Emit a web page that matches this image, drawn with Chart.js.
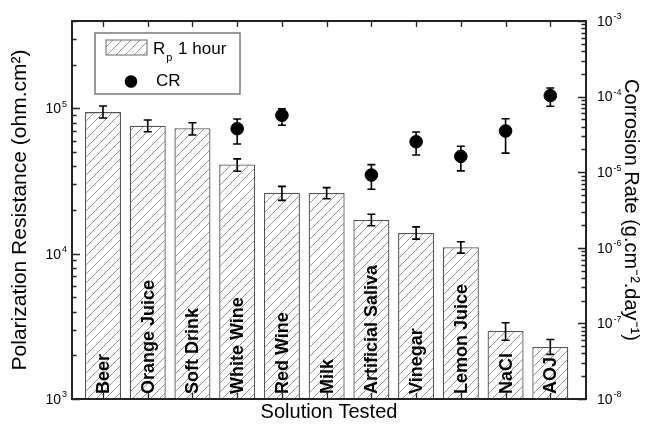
<!DOCTYPE html>
<html><head><meta charset="utf-8">
<script src="https://cdn.jsdelivr.net/npm/chart.js@4.4.1/dist/chart.umd.min.js"></script>
<style>html,body{margin:0;padding:0;background:#fff;} canvas{display:block;}</style>
</head><body>
<canvas id="c" width="652" height="427"></canvas>
<script>
// ---- data ----
const categories = ['Beer','Orange Juice','Soft Drink','White Wine','Red Wine','Milk','Artificial Saliva','Vinegar','Lemon Juice','NaCl','AOJ'];
const rpValues  = [94400, 76100, 73000, 41100, 26300, 26200, 17100, 13900, 11100, 2940, 2280];
const rpErrHigh = [104000, 83200, 79800, 45000, 29100, 28500, 18700, 15300, 12100, 3350, 2570];
const rpErrLow  = [86000, 69200, 65600, 37000, 23300, 23900, 15600, 12600, 10100, 2540, 2030];
const crValues  = [null, null, null, 3.76e-5, 5.66e-5, null, 9.18e-6, 2.53e-5, 1.62e-5, 3.51e-5, 1.03e-4];
const crErrHigh = [null, null, null, 5.06e-5, 6.92e-5, null, 1.26e-5, 3.40e-5, 2.20e-5, 5.10e-5, 1.30e-4];
const crErrLow  = [null, null, null, 2.36e-5, 4.17e-5, null, 5.94e-6, 1.69e-5, 1.04e-5, 1.79e-5, 7.45e-5];
const leftTickExps  = [3, 4, 5];
const rightTickExps = [-8, -7, -6, -5, -4, -3];
const seriesNames = ['1 hour', 'CR'];

const FONT = '"Liberation Sans", Arial, sans-serif';
const canvas = document.getElementById('c');
const mainCtx = canvas.getContext('2d');

function makeHatch(){
  const s = 9;
  const c = document.createElement('canvas'); c.width = s; c.height = s;
  const g = c.getContext('2d');
  g.fillStyle = '#fff'; g.fillRect(0,0,s,s);
  g.strokeStyle = '#8c8c8c'; g.lineWidth = 0.9;
  g.beginPath();
  g.moveTo(0,s); g.lineTo(s,0);
  g.moveTo(-2,2); g.lineTo(2,-2);
  g.moveTo(s-2,s+2); g.lineTo(s+2,s-2);
  g.stroke();
  return mainCtx.createPattern(c,'repeat');
}
const hatch = makeHatch();

function drawErr(ctx, x, y1, y2, cap){
  ctx.beginPath();
  ctx.moveTo(x, y1); ctx.lineTo(x, y2);
  ctx.moveTo(x-cap, y1); ctx.lineTo(x+cap, y1);
  ctx.moveTo(x-cap, y2); ctx.lineTo(x+cap, y2);
  ctx.stroke();
}

function drawPow(ctx, exp, x, y, align){
  const base = '10', e = String(exp);
  ctx.font = '14px ' + FONT;
  const bw = ctx.measureText(base).width;
  ctx.font = '9px ' + FONT;
  const ew = ctx.measureText(e).width;
  let x0 = align === 'right' ? x - bw - ew - 1 : x;
  ctx.textAlign = 'left'; ctx.textBaseline = 'middle';
  ctx.font = '14px ' + FONT;
  ctx.fillText(base, x0, y + 1);
  ctx.font = '9px ' + FONT;
  ctx.fillText(e, x0 + bw + 1, y - 4);
}

const decor = {
  id: 'decor',
  afterDatasetsDraw(chart){
    const ctx = chart.ctx, xs = chart.scales.x, ys = chart.scales.y, y2 = chart.scales.y2;
    const ca = chart.chartArea;
    ctx.save();
    // category labels inside bars
    ctx.fillStyle = '#000';
    ctx.font = 'bold 18px ' + FONT;
    ctx.textAlign = 'left'; ctx.textBaseline = 'middle';
    categories.forEach((c, i) => {
      const x = xs.getPixelForValue(i);
      ctx.save();
      ctx.translate(x + 1, ca.bottom - 5);
      ctx.rotate(-Math.PI/2);
      ctx.fillText(c, 0, 0);
      ctx.restore();
    });
    // error bars
    ctx.strokeStyle = '#000'; ctx.lineWidth = 1.6;
    rpValues.forEach((v, i) => {
      const x = xs.getPixelForValue(i);
      drawErr(ctx, x, ys.getPixelForValue(rpErrHigh[i]), ys.getPixelForValue(rpErrLow[i]), 4);
    });
    crValues.forEach((v, i) => {
      if (v == null) return;
      const x = xs.getPixelForValue(i);
      drawErr(ctx, x, y2.getPixelForValue(crErrHigh[i]), y2.getPixelForValue(crErrLow[i]), 4);
    });
    ctx.restore();
  },
  afterDraw(chart){
    const ctx = chart.ctx, xs = chart.scales.x, ys = chart.scales.y, y2 = chart.scales.y2;
    const ca = chart.chartArea;
    ctx.save();
    // frame
    ctx.strokeStyle = '#222'; ctx.lineWidth = 2;
    ctx.strokeRect(ca.left, ca.top, ca.right - ca.left, ca.bottom - ca.top);
    ctx.lineWidth = 1.3;
    ctx.beginPath();
    // left ticks
    for (let e = 3; e <= 5; e++) {
      for (let k = 1; k <= 9; k++) {
        const v = k * Math.pow(10, e);
        if (v < ys.min || v > ys.max) continue;
        const p = Math.round(ys.getPixelForValue(v)) + 0.5;
        const len = k === 1 ? 8 : 4.5;
        ctx.moveTo(ca.left, p); ctx.lineTo(ca.left + len, p);
      }
    }
    // right ticks
    for (let e = -8; e <= -3; e++) {
      for (let k = 1; k <= 9; k++) {
        const v = k * Math.pow(10, e);
        if (v < y2.min * 0.999 || v > y2.max * 1.001) continue;
        const p = Math.round(y2.getPixelForValue(v)) + 0.5;
        const len = k === 1 ? 8 : 4.5;
        ctx.moveTo(ca.right, p); ctx.lineTo(ca.right - len, p);
      }
    }
    // top / bottom ticks
    categories.forEach((c, i) => {
      const x = Math.round(xs.getPixelForValue(i)) + 0.5;
      ctx.moveTo(x, ca.top); ctx.lineTo(x, ca.top + 6);
      ctx.moveTo(x, ca.bottom); ctx.lineTo(x, ca.bottom - 6);
    });
    ctx.stroke();
    // tick labels
    ctx.fillStyle = '#000';
    leftTickExps.forEach(e => drawPow(ctx, e, ca.left - 5, ys.getPixelForValue(Math.pow(10, e)), 'right'));
    rightTickExps.forEach(e => drawPow(ctx, e, ca.right + 11, y2.getPixelForValue(Math.pow(10, e)), 'left'));
    // legend
    const lx = ca.left + 23, ly = ca.top + 12;
    ctx.strokeStyle = '#7a7a7a'; ctx.lineWidth = 1.5;
    ctx.strokeRect(lx, ly, 145, 61);
    ctx.fillStyle = hatch;
    ctx.fillRect(lx + 11, ly + 7, 41, 15);
    ctx.strokeStyle = '#666'; ctx.lineWidth = 1;
    ctx.strokeRect(lx + 11, ly + 7, 41, 15);
    ctx.fillStyle = '#000';
    ctx.textAlign = 'left'; ctx.textBaseline = 'middle';
    ctx.font = '17px ' + FONT;
    ctx.fillText('R', lx + 58, ly + 16);
    const rw = ctx.measureText('R').width;
    ctx.font = '11px ' + FONT;
    ctx.fillText('p', lx + 58 + rw + 1, ly + 25);
    const pw = ctx.measureText('p').width;
    ctx.font = '17px ' + FONT;
    ctx.fillText(' ' + seriesNames[0], lx + 58 + rw + pw + 2, ly + 16);
    ctx.beginPath();
    ctx.arc(lx + 36, ly + 48.5, 6.3, 0, Math.PI * 2);
    ctx.fill();
    ctx.fillText(seriesNames[1], lx + 61, ly + 48.5);
    ctx.restore();
  }
};

new Chart(canvas, {
  type: 'bar',
  data: {
    datasets: [
      {
        type: 'bar',
        label: 'Rp 1 hour',
        data: rpValues.map((v, i) => ({x: i, y: v})),
        backgroundColor: hatch,
        borderColor: '#555',
        borderWidth: 1.3,
        barPercentage: 0.805,
        categoryPercentage: 1,
        yAxisID: 'y', xAxisID: 'x'
      },
      {
        type: 'scatter',
        label: 'CR',
        data: crValues.map((v, i) => v == null ? null : ({x: i, y: v})).filter(d => d),
        backgroundColor: '#000', borderColor: '#000',
        pointRadius: 6.3, pointHoverRadius: 6.3,
        yAxisID: 'y2', xAxisID: 'x'
      }
    ]
  },
  options: {
    responsive: false,
    animation: false,
    events: [],
    layout: { padding: { top: 21, left: 0, right: 0, bottom: 0 } },
    plugins: { legend: { display: false }, tooltip: { enabled: false } },
    scales: {
      x: {
        type: 'linear', min: -0.693, max: 10.798, offset: false,
        grid: { display: false }, border: { display: false },
        ticks: { display: false },
        title: { display: true, text: 'Solution Tested', color: '#000',
                 font: { family: FONT, size: 20 }, padding: { top: 0, bottom: 3 } },
        afterFit(s){ s.height = 28; }
      },
      y: {
        type: 'logarithmic', position: 'left', min: 1000, max: 400000,
        grid: { display: false }, border: { display: false },
        ticks: { display: false },
        title: { display: true, text: 'Polarization Resistance (ohm.cm²)', color: '#000',
                 font: { family: FONT, size: 21 }, padding: { top: 8, bottom: 0 } },
        afterFit(s){ s.width = 72; }
      },
      y2: {
        type: 'logarithmic', position: 'right', min: 1e-8, max: 1e-3,
        grid: { display: false }, border: { display: false },
        ticks: { display: false },
        title: { display: true, text: 'Corrosion Rate (g.cm⁻².day⁻¹)', color: '#000',
                 font: { family: FONT, size: 20 }, padding: { top: 9.5, bottom: 0 } },
        afterFit(s){ s.width = 66; }
      }
    }
  },
  plugins: [decor]
});
</script>
</body></html>
